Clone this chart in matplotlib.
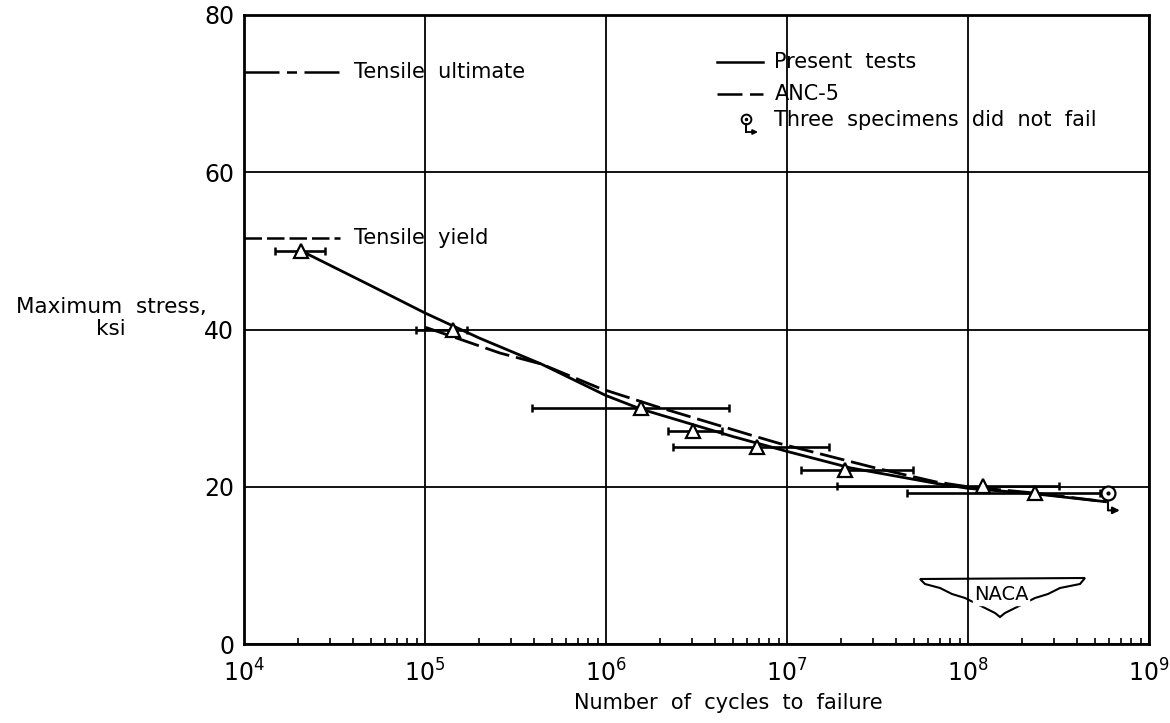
import numpy as np
import matplotlib
matplotlib.use("Agg")
import matplotlib.pyplot as plt
from matplotlib.patches import Polygon
from matplotlib.ticker import LogLocator, LogFormatterMathtext, NullFormatter

plt.rcParams['font.family'] = ['DejaVu Sans']

# ---- data ----
test_cycles = [2.07e4, 1.43e5, 1.56e6, 3.03e6, 6.82e6, 2.09e7, 1.21e8, 2.34e8]
test_stress = [50.0, 40.0, 30.0, 27.1, 25.1, 22.1, 20.1, 19.2]
range_low = [1.48e4, 8.9e4, 3.9e5, 2.2e6, 2.34e6, 1.19e7, 1.89e7, 4.6e7]
range_high = [2.8e4, 1.71e5, 4.8e6, 4.4e6, 1.7e7, 4.97e7, 3.18e8, 5.36e8]

runout_cycles = [5.93e8]
runout_stress = [19.2]
runout_arrow_cycles = [5.93e8, 5.93e8, 6.9e8]
runout_arrow_stress = [19.2, 17.0, 17.0]

present_cycles = [2.07e4, 5.0e4, 1.0e5, 2.0e5, 4.4e5, 1.0e6, 1.55e6, 5.0e6, 1.0e7,
                  2.24e7, 6.76e7, 1.0e8, 2.34e8, 5.75e8]
present_stress = [50.0, 45.6, 42.1, 38.9, 35.6, 31.6, 29.9, 26.4, 24.5,
                  22.4, 20.4, 19.8, 19.1, 18.1]

anc5_cycles = [1.0e5, 2.6e5, 4.4e5, 9.3e5, 1.9e6, 6.25e6, 9.1e6, 3.13e7, 6.7e7,
               1.0e8, 2.34e8, 5.75e8]
anc5_stress = [40.3, 37.0, 35.6, 32.5, 30.2, 26.6, 25.5, 22.35, 20.6, 20.0, 19.2, 18.1]

ult_cycles = [1e4, 3.39e4]
ult_stress = [72.7, 72.7]
yield_cycles = [1e4, 3.39e4]
yield_stress = [51.7, 51.7]

x_ticks = [1e4, 1e5, 1e6, 1e7, 1e8, 1e9]
y_ticks = [0, 20, 40, 60, 80]

# ---- figure ----
fig = plt.figure(figsize=(11.70, 7.23), dpi=100)
ax = fig.add_axes([244/1170, 1-644/723, (1149-244)/1170, (644-15)/723])
ax.set_xscale('log')
ax.set_xlim(1e4, 1e9)
ax.set_ylim(0, 80)

ax.set_xticks(x_ticks)
ax.set_yticks(y_ticks)
ax.xaxis.set_major_formatter(LogFormatterMathtext())
ax.xaxis.set_minor_locator(LogLocator(base=10, subs=np.arange(2, 10), numticks=20))
ax.xaxis.set_minor_formatter(NullFormatter())
ax.grid(True, which='major', color='black', lw=1.3)
ax.tick_params(axis='x', which='minor', direction='in', length=4, width=1.2, top=False)
ax.tick_params(axis='both', which='major', length=0, labelsize=17)
ax.tick_params(axis='x', which='major', pad=11)
ax.tick_params(axis='y', which='major', pad=7)
for s in ax.spines.values():
    s.set_linewidth(2.0)

# curves
ax.plot(present_cycles, present_stress, color='black', lw=2.0, zorder=3)
ax.plot(anc5_cycles, anc5_stress, color='black', lw=2.0, dashes=(9, 2.5), zorder=3)

# test points with ranges
xerr = [np.array(test_cycles) - np.array(range_low), np.array(range_high) - np.array(test_cycles)]
ax.errorbar(test_cycles, test_stress, xerr=xerr, fmt='none', ecolor='black',
            elinewidth=1.9, capsize=3, capthick=1.8, zorder=4)
ax.plot(test_cycles, test_stress, ls='none', marker='^', ms=10, mfc='white',
        mec='black', mew=1.6, zorder=5)

# run-out specimens
ax.plot(runout_arrow_cycles[:2], runout_arrow_stress[:2], color='black', lw=1.5, zorder=5)
ax.annotate('', xy=(runout_arrow_cycles[2], runout_arrow_stress[2]),
            xytext=(runout_arrow_cycles[1], runout_arrow_stress[1]),
            arrowprops=dict(arrowstyle='-|>', color='black', lw=1.5,
                            mutation_scale=10, shrinkA=0, shrinkB=0), zorder=5)
ax.plot(runout_cycles, runout_stress, ls='none', marker='o', ms=10, mfc='white',
        mec='black', mew=1.6, zorder=6)
ax.plot(runout_cycles, runout_stress, ls='none', marker='o', ms=2, color='black', zorder=7)

# tensile lines
ax.plot(ult_cycles, ult_stress, color='black', lw=1.8, dashes=(14, 3, 4, 3), clip_on=False)
ax.text(4.05e4, ult_stress[0], 'Tensile  ultimate', fontsize=15, va='center', ha='left')
ax.plot(yield_cycles, yield_stress, color='black', lw=1.8, dashes=(7, 2), clip_on=False)
ax.text(4.05e4, yield_stress[0], 'Tensile  yield', fontsize=15, va='center', ha='left')

# legend (manual)
T = ax.transAxes
ax.plot([0.523, 0.573], [0.925, 0.925], color='black', lw=1.8, transform=T)
ax.text(0.586, 0.925, 'Present  tests', fontsize=15, va='center', transform=T)
ax.plot([0.523, 0.573], [0.874, 0.874], color='black', lw=1.8, dashes=(10, 3), transform=T)
ax.text(0.586, 0.874, 'ANC-5', fontsize=15, va='center', transform=T)
ax.plot([0.555], [0.834], marker='o', ms=7, mfc='white', mec='black', mew=1.4, transform=T)
ax.plot([0.555], [0.834], marker='o', ms=1.5, color='black', transform=T)
ax.plot([0.555, 0.555], [0.826, 0.814], color='black', lw=1.4, transform=T)
ax.annotate('', xy=(0.568, 0.814), xytext=(0.555, 0.814), xycoords=T,
            arrowprops=dict(arrowstyle='-|>', color='black', lw=1.3,
                            mutation_scale=7, shrinkA=0, shrinkB=0))
ax.text(0.586, 0.833, 'Three  specimens  did  not  fail', fontsize=15, va='center', transform=T)

# NACA emblem
def px(xp, yp):
    return ((xp - 244) / 905, (644 - yp) / 629)
wing = [(920, 579), (1085, 578), (1080, 584), (1060, 588), (1048, 594), (1035, 598),
        (1025, 603), (1015, 608), (1005, 613), (1000, 617), (995, 613), (985, 608),
        (975, 603), (965, 598), (952, 594), (940, 588), (925, 584)]
ax.add_patch(Polygon([px(*p) for p in wing], closed=True, fill=False, ec='black',
                     lw=1.5, transform=T))
cx, cy = px(1001, 595)
ax.text(cx, cy, 'NACA', fontsize=14, ha='center', va='center', transform=T,
        bbox=dict(boxstyle='square,pad=0.05', fc='white', ec='white'))

# axis labels
fig.text(574/1170, 1 - 703/723, 'Number  of  cycles  to  failure', fontsize=15,
         ha='left', va='center')
fig.text(111/1170, 1 - 318/723, 'Maximum  stress,\nksi', fontsize=15.5,
         ha='center', va='center', multialignment='center', linespacing=1.1)

fig.savefig('out.png', dpi=100)
